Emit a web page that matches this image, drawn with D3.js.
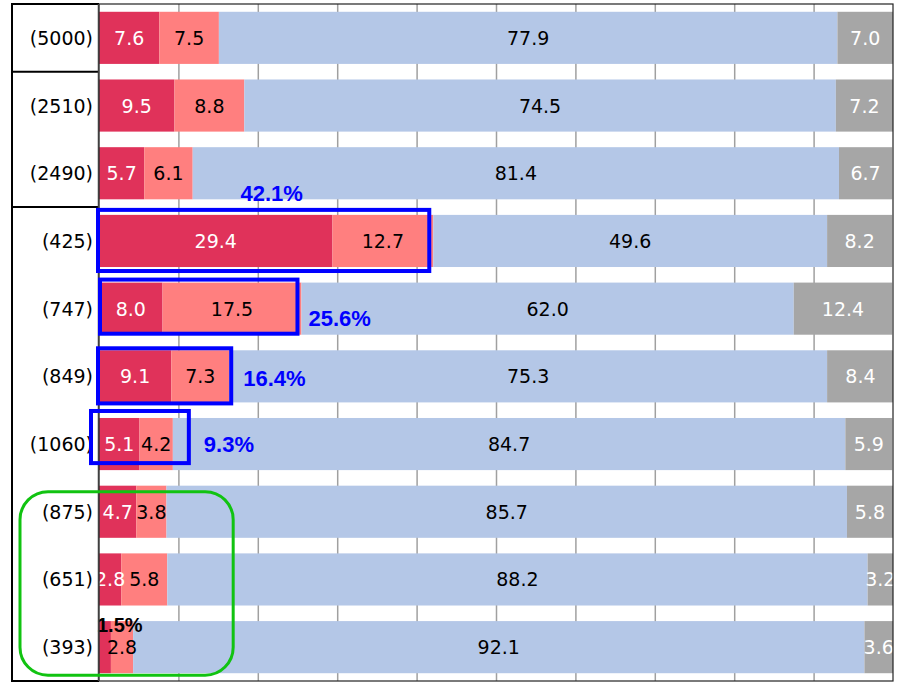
<!DOCTYPE html>
<html>
<head>
<meta charset="utf-8">
<script src="https://cdn.jsdelivr.net/npm/d3@7"></script>
<style>
  body { margin: 0; background: #fff; }
  svg { display: block; }
</style>
</head>
<body>
<div id="chart"></div>
<script>
// data (percent of each group)
const groups  = ["(5000)", "(2510)", "(2490)", "(425)", "(747)", "(849)", "(1060)", "(875)", "(651)", "(393)"];
const seriesA = [7.6, 9.5, 5.7, 29.4, 8.0, 9.1, 5.1, 4.7, 2.8, 1.5];
const seriesB = [7.5, 8.8, 6.1, 12.7, 17.5, 7.3, 4.2, 3.8, 5.8, 2.8];
const seriesC = [77.9, 74.5, 81.4, 49.6, 62.0, 75.3, 84.7, 85.7, 88.2, 92.1];
const seriesD = [7.0, 7.2, 6.7, 8.2, 12.4, 8.4, 5.9, 5.8, 3.2, 3.6];
const keys = ["a", "b", "c", "d"];

// blue callouts (sum of first two segments)
const calloutRows  = ["(425)", "(747)", "(849)", "(1060)"];
const calloutTexts = ["42.1%", "25.6%", "16.4%", "9.3%"];
// groups separated by a line in the label column
const breakRows = ["(2510)", "(425)"];
// rows circled in green
const circledRows = ["(875)", "(651)", "(393)"];

const colors = {a: "#E0325A", b: "#FF7F7F", c: "#B4C7E7", d: "#A6A6A6"};
const textColors = {a: "#fff", b: "#000", c: "#000", d: "#fff"};

const width = 905, height = 685;
const plot = {left: 99, right: 893, top: 4, bottom: 681};
const tableLeft = 12;

const table = groups.map((g, i) => ({group: g, a: seriesA[i], b: seriesB[i], c: seriesC[i], d: seriesD[i]}));
const stacked = d3.stack().keys(keys)(table);

const svg = d3.select("#chart").append("svg")
    .attr("width", width)
    .attr("height", height);

const x = d3.scaleLinear().domain([0, 100]).range([plot.left, plot.right]);
const y = d3.scaleBand().domain(groups)
    .range([plot.top, plot.bottom])
    .paddingInner(0.23)
    .paddingOuter(0.115);
const gap = y.step() - y.bandwidth();

svg.append("defs").append("clipPath")
    .attr("id", "clip")
    .append("rect")
    .attr("x", plot.left)
    .attr("y", plot.top)
    .attr("width", plot.right - plot.left)
    .attr("height", plot.bottom - plot.top);

// vertical gridlines
const grid = svg.append("g")
    .attr("transform", "translate(0," + plot.bottom + ")")
    .call(d3.axisBottom(x).tickValues(d3.range(10, 100, 10))
        .tickSize(-(plot.bottom - plot.top)).tickFormat(""));
grid.select(".domain").remove();
grid.selectAll(".tick line").attr("stroke", "#A0A0A0").attr("stroke-width", 1.5);

// bars
const barG = svg.append("g").attr("clip-path", "url(#clip)");
barG.selectAll("g.series")
    .data(stacked)
    .join("g")
    .attr("class", "series")
    .attr("fill", d => colors[d.key])
    .selectAll("rect")
    .data(d => d)
    .join("rect")
    .attr("x", d => x(d[0]))
    .attr("y", d => y(d.data.group))
    .attr("width", d => x(d[1]) - x(d[0]))
    .attr("height", y.bandwidth());

// value labels
const labelG = svg.append("g").attr("clip-path", "url(#clip)")
    .style("font-family", "'DejaVu Sans', Verdana, sans-serif")
    .style("font-size", "19px");
stacked.forEach(s => {
    labelG.selectAll(null)
        .data(s.filter(d => !(s.key === "a" && d[1] - d[0] < 2)))
        .join("text")
        .attr("x", d => (x(d[0]) + x(d[1])) / 2)
        .attr("y", d => y(d.data.group) + y.bandwidth() / 2)
        .attr("text-anchor", "middle")
        .attr("dominant-baseline", "central")
        .attr("fill", textColors[s.key])
        .text(d => (d[1] - d[0]).toFixed(1));
});

// small first segment labelled above the bar
stacked[0].filter(d => d[1] - d[0] < 2).forEach(d => {
    svg.append("text")
        .attr("x", x(0) - 2)
        .attr("y", y(d.data.group) + 4)
        .attr("dominant-baseline", "central")
        .style("font-family", "'Liberation Sans', Arial, sans-serif")
        .style("font-weight", "bold")
        .style("font-size", "20px")
        .attr("fill", "#000")
        .text((d[1] - d[0]).toFixed(1) + "%");
});

// plot frame
svg.append("rect")
    .attr("x", plot.left)
    .attr("y", plot.top)
    .attr("width", plot.right - plot.left)
    .attr("height", plot.bottom - plot.top)
    .attr("fill", "none")
    .attr("stroke", "#222")
    .attr("stroke-width", 1.2);

// label column
const tbl = svg.append("g").attr("stroke", "#000").attr("stroke-width", 2);
tbl.append("line").attr("x1", tableLeft).attr("x2", tableLeft).attr("y1", plot.top - 1).attr("y2", plot.bottom + 1);
tbl.append("line").attr("x1", tableLeft).attr("x2", plot.left).attr("y1", plot.top).attr("y2", plot.top);
tbl.append("line").attr("x1", tableLeft).attr("x2", plot.left).attr("y1", plot.bottom).attr("y2", plot.bottom);
breakRows.forEach(r => {
    const yy = y(r) - gap / 2;
    tbl.append("line").attr("x1", tableLeft).attr("x2", plot.left).attr("y1", yy).attr("y2", yy);
});
svg.append("line")
    .attr("x1", plot.left - 0.5).attr("x2", plot.left - 0.5)
    .attr("y1", plot.top).attr("y2", plot.bottom)
    .attr("stroke", "#404040").attr("stroke-width", 1.5);

svg.append("g")
    .style("font-family", "'DejaVu Sans', Verdana, sans-serif")
    .style("font-size", "19px")
    .selectAll("text")
    .data(groups)
    .join("text")
    .attr("x", plot.left - 6)
    .attr("y", d => y(d) + y.bandwidth() / 2)
    .attr("text-anchor", "end")
    .attr("dominant-baseline", "central")
    .attr("fill", "#000")
    .text(d => d);

// blue callout boxes and labels
const boxPad = [[-1, -5, -4, 4], [1, -3, -4, -1], [-1, -2, 2, 1], [-8, -7, 16, -7]];
const textPos = [["top", 0, 0], ["right", 9, 10], ["right", 10, 2], ["right", 13, 0]];
calloutRows.forEach((r, i) => {
    const row = table[groups.indexOf(r)];
    const p = boxPad[i];
    const x0 = x(0) + p[0], x1 = x(row.a + row.b) + p[2];
    const y0 = y(r) + p[1], y1 = y(r) + y.bandwidth() + p[3];
    svg.append("rect")
        .attr("x", x0).attr("y", y0)
        .attr("width", x1 - x0).attr("height", y1 - y0)
        .attr("fill", "none")
        .attr("stroke", "#0000FF")
        .attr("stroke-width", 4);
    const t = textPos[i];
    const lbl = svg.append("text")
        .style("font-family", "'Liberation Sans', Arial, sans-serif")
        .style("font-weight", "bold")
        .style("font-size", "22px")
        .attr("fill", "#0000FF")
        .attr("dominant-baseline", "central")
        .text(calloutTexts[i]);
    if (t[0] === "top") {
        lbl.attr("x", (x0 + x1) / 2 + 8).attr("y", y0 - 16).attr("text-anchor", "middle");
    } else {
        lbl.attr("x", x1 + 2 + t[1]).attr("y", y(r) + y.bandwidth() / 2 + t[2]);
    }
});

// green highlight round the last rows
const gTop = y(circledRows[0]) + 6;
const gBottom = y(circledRows[circledRows.length - 1]) + y.bandwidth() + 2;
svg.append("rect")
    .attr("x", tableLeft + 8)
    .attr("y", gTop)
    .attr("width", x(16.9) - tableLeft - 8)
    .attr("height", gBottom - gTop)
    .attr("rx", 28)
    .attr("fill", "none")
    .attr("stroke", "#11C311")
    .attr("stroke-width", 3);
</script>
</body>
</html>
